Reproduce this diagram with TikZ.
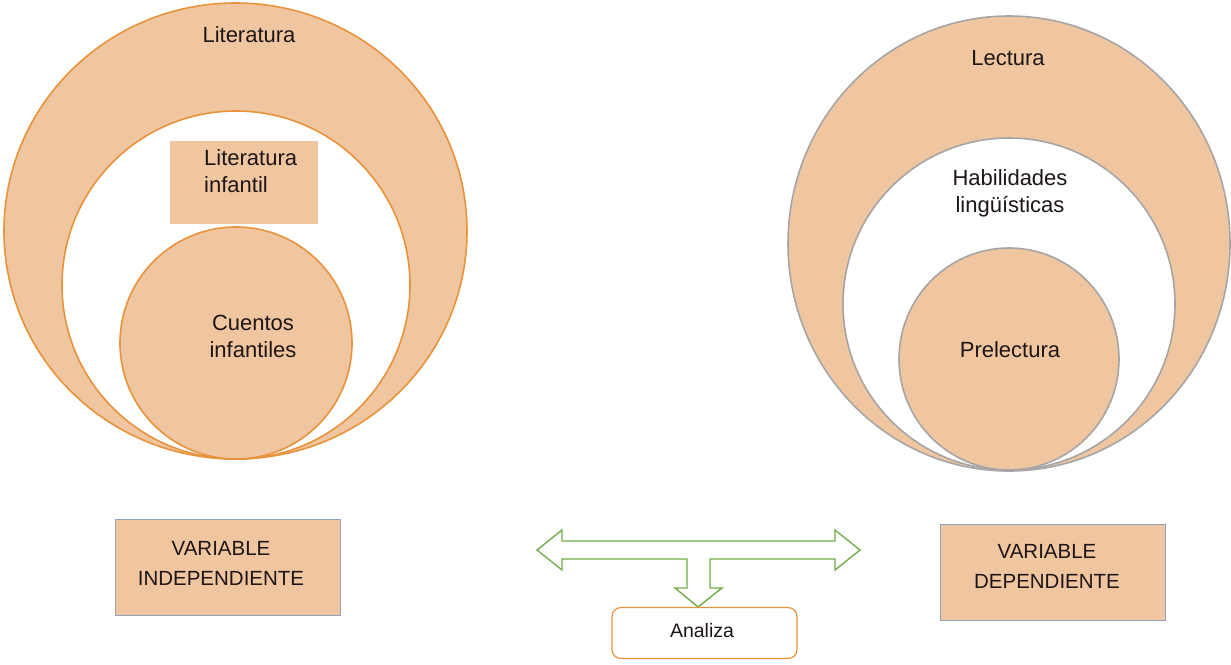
\documentclass[tikz,border=0pt]{standalone}
\usepackage{fontspec}
\setmainfont{Liberation Sans}
\usetikzlibrary{shapes.geometric}
\definecolor{peach}{RGB}{240,198,160}
\definecolor{orangeline}{RGB}{232,146,58}
\definecolor{greyline}{RGB}{165,165,165}
\definecolor{blueline}{RGB}{143,162,190}
\definecolor{greenline}{RGB}{112,173,71}
\definecolor{txt}{RGB}{30,22,22}
\tikzset{
  ring/.style={ellipse, inner sep=0pt, line width=1.6pt},
  lefty/.style={ring, draw=orangeline},
  righty/.style={ring, draw=greyline},
  lbl/.style={text=txt, font=\fontsize{22}{27}\selectfont, align=center, inner sep=0pt},
  varbox/.style={draw=blueline, fill=peach, line width=1pt, minimum width=225pt, minimum height=96pt, inner sep=0pt},
  vartext/.style={text=txt, font=\fontsize{20.5}{30}\selectfont, align=center},
  arrowshape/.style={draw=greenline, line width=1.4pt, fill=white, line join=miter},
}
\begin{document}
\begin{tikzpicture}[x=1pt,y=-1pt]
\useasboundingbox (0,0) rectangle (1231,664);
% left circles
\node[lefty, fill=peach, minimum width=463pt, minimum height=456pt] (litC) at (235.5,231) {};
\node[lefty, fill=white, minimum width=348pt, minimum height=348pt] (litinfC) at (236,285) {};
\node[lefty, fill=peach, minimum width=232pt, minimum height=232pt] (cuenC) at (236,343) {};
\node[fill=peach, minimum width=148pt, minimum height=83pt, inner sep=0pt] (litinfR) at (244,182.5) {};
\node[lbl] (lit) at (249,35) {Literatura};
\node[lbl, align=left, anchor=west] (litinf) at (204,171) {Literatura\\infantil};
\node[lbl] (cuen) at (253,336) {Cuentos\\infantiles};
% right circles
\node[righty, fill=peach, minimum width=442pt, minimum height=455pt] (lecC) at (1009,243.5) {};
\node[righty, fill=white, minimum width=332pt, minimum height=332pt] (habC) at (1009,304) {};
\node[righty, fill=peach, minimum width=220pt, minimum height=222pt] (preC) at (1009,359) {};
\node[lbl] (lec) at (1008,58) {Lectura};
\node[lbl] (hab) at (1010,193) {Habilidades\\lingüísticas};
\node[lbl] (pre) at (1010,350) {Prelectura};
% variable boxes
\node[varbox] (vi) at (227.5,567) {};
\node[vartext] at (221,563) {VARIABLE\\INDEPENDIENTE};
\node[varbox] (vd) at (1052.5,572) {};
\node[vartext] at (1047,566) {VARIABLE\\DEPENDIENTE};
% arrow
\draw[arrowshape] (537,550) -- (562,530) -- (562,541) -- (835,541) -- (835,530) -- (860,550)
  -- (835,570) -- (835,559) -- (710,559) -- (710,588) -- (722,588) -- (698,607)
  -- (675,588) -- (687,588) -- (687,559) -- (562,559) -- (562,570) -- cycle;
% Analiza
\node[draw=orangeline, line width=1.2pt, rounded corners=9pt, minimum width=185pt, minimum height=51pt, fill=white, inner sep=0pt] (an) at (704.5,633) {};
\node[text=txt, font=\fontsize{19.5}{20}\selectfont, anchor=base] at (702,637) {Analiza};
\end{tikzpicture}
\end{document}
